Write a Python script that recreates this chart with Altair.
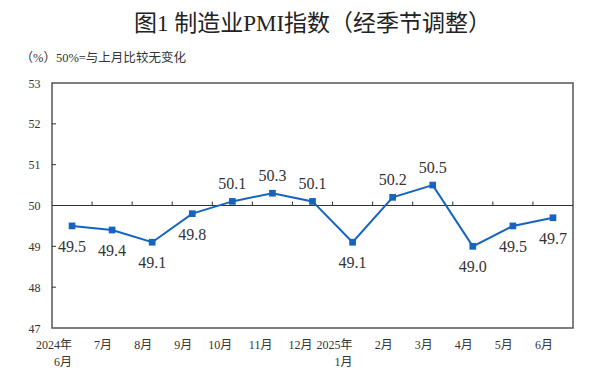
import altair as alt
import pandas as pd

months = ["2024年|6月", "7月", "8月", "9月", "10月", "11月", "12月",
          "2025年|1月", "2月", "3月", "4月", "5月", "6月"]
values = [49.5, 49.4, 49.1, 49.8, 50.1, 50.3, 50.1, 49.1, 50.2, 50.5, 49.0, 49.5, 49.7]
y_ticks = [47, 48, 49, 50, 51, 52, 53]
inner_ticks = [48, 49, 51, 52]

df = pd.DataFrame({"month": months, "value": values})
df["label"] = df["value"].map(lambda v: f"{v:.1f}")
tick_df = pd.DataFrame({"y": inner_ticks})

FONT = "Liberation Serif, Noto Sans CJK SC"
BLUE = "#1565C0"

x_enc = alt.X("month:N", sort=months,
              scale=alt.Scale(paddingInner=0, paddingOuter=0),
              axis=alt.Axis(title=None, labelExpr="split(datum.label, '|')",
                            labelAngle=0, ticks=False, domain=False,
                            labelPadding=11, labelFontSize=12, labelFont=FONT,
                            labelColor="#333", labelLineHeight=17,
                            labelBaseline="top"))
y_scale = alt.Scale(domain=[47, 53], nice=False, zero=False)

base = alt.Chart(df)

line = base.mark_line(color=BLUE, strokeWidth=2).encode(
    x=x_enc,
    y=alt.Y("value:Q", scale=y_scale,
            axis=alt.Axis(values=y_ticks, ticks=False, domain=False, grid=False,
                          labelPadding=12, labelFontSize=12, labelFont=FONT,
                          labelColor="#333",
                          title="（%）50%=与上月比较无变化", titleAngle=0,
                          titleAlign="left", titleX=-32, titleY=-26,
                          titleBaseline="middle", titleFont=FONT,
                          titleFontSize=12.5, titleFontWeight="normal",
                          titleColor="#333")),
)
points = base.mark_square(color=BLUE, size=45, opacity=1).encode(
    x=alt.X("month:N", sort=months), y=alt.Y("value:Q"))

above = base.transform_filter("datum.value > 50").mark_text(
    dy=-17, fontSize=16, font=FONT, color="#333").encode(
    x=alt.X("month:N", sort=months), y=alt.Y("value:Q"), text="label:N")
below = base.transform_filter("datum.value < 50").mark_text(
    dy=21, fontSize=16, font=FONT, color="#333").encode(
    x=alt.X("month:N", sort=months), y=alt.Y("value:Q"), text="label:N")

ref50 = alt.Chart(pd.DataFrame({"y": [50]})).mark_rule(
    color="#333", strokeWidth=1).encode(y=alt.Y("y:Q"))

bticks = base.transform_filter(alt.FieldOneOfPredicate(field="month", oneOf=months[1:])).mark_rule(
    color="#333", strokeWidth=1, y2Offset=-4).encode(
    x=alt.X("month:N", sort=months, bandPosition=0),
    y=alt.datum(50), y2=alt.datum(50))

yticks = alt.Chart(tick_df).mark_rule(color="#333", strokeWidth=1).encode(
    y=alt.Y("y:Q"), x=alt.value(0), x2=alt.value(4))

chart = alt.layer(ref50, bticks, yticks, line, points, above, below).properties(
    width=521, height=245,
    title=alt.TitleParams("图1  制造业PMI指数（经季节调整）", fontSize=23,
                          font=FONT, fontWeight="normal",
                          color="#222", anchor="middle", frame="group",
                          offset=15),
    autosize=alt.AutoSizeParams(type="none"),
    padding={"left": 44, "top": 75, "right": 8, "bottom": 44},
).configure_view(stroke="#555", strokeWidth=1.5)

chart.save("out.html", embed_options={"renderer": "svg", "actions": False})
